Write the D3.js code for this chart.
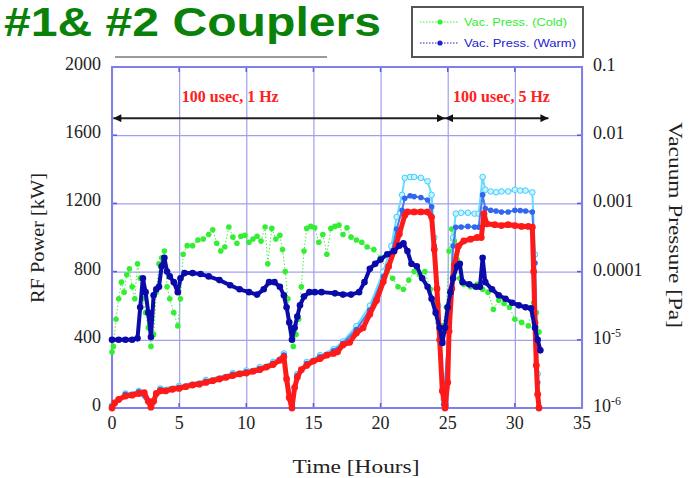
<!DOCTYPE html>
<html>
<head>
<meta charset="UTF-8">
<title>#1 & #2 Couplers</title>
<script src="https://d3js.org/d3.v7.min.js"></script>
<style>
  * { margin: 0; padding: 0; box-sizing: border-box; }
  body { background: #fff; width: 695px; height: 478px; overflow: hidden; }
  svg { display: block; }
  .serif { font-family: "Liberation Serif", "Times New Roman", serif; fill: #222; }
</style>
</head>
<body>
<div id="chart"></div>
<script>
// ---- data (hours, kW / Pa) ----
const xTicks = [0, 5, 10, 15, 20, 25, 30, 35];
const kwTicks = [0, 400, 800, 1200, 1600, 2000];
const paTicks = [1e-6, 1e-5, 1e-4, 1e-3, 1e-2, 1e-1];
const paLabels = [["10", "-6"], ["10", "-5"], ["0.0001"], ["0.001"], ["0.01"], ["0.1"]];

const redPower = [[0,0],[0.2,30],[0.5,50],[1.0,70],[1.5,75],[2.0,85],[2.4,90],[2.7,40],[2.9,5],[3.1,40],[3.3,85],[3.6,100],[4.0,100],[4.5,110],[5.0,115],[5.5,125],[6.0,135],[6.5,140],[7.0,150],[7.5,160],[8.0,170],[8.5,180],[9.0,190],[9.5,200],[10.0,205],[10.5,215],[11.0,225],[11.5,240],[12.0,255],[12.5,280],[12.8,300],[13.0,170],[13.2,60],[13.4,0],[13.6,120],[13.8,180],[14.1,225],[14.5,250],[15.0,275],[15.5,290],[16.0,310],[16.5,320],[16.8,330],[17.2,370],[17.7,385],[18.2,440],[18.7,470],[19.2,550],[19.7,630],[20.2,740],[20.6,830],[21.0,920],[21.4,1020],[21.8,1130],[22.0,1150],[22.5,1150],[23.0,1150],[23.5,1150],[23.8,1120],[24.0,930],[24.2,700],[24.4,400],[24.6,100],[24.8,0],[25.0,150],[25.1,450],[25.3,700],[25.5,840],[25.8,950],[26.2,980],[26.7,990],[27.2,1000],[27.5,1000],[27.7,1140],[27.9,1080],[28.5,1075],[29.0,1070],[29.5,1075],[30.0,1070],[30.5,1065],[31.0,1065],[31.3,1060],[31.4,800],[31.5,500],[31.6,250],[31.7,80],[31.8,0]];

const cyanPower = [[0,15],[1,85],[2,100],[2.9,20],[3.6,115],[5,130],[7,165],[9,205],[10,220],[11,240],[12,270],[12.8,320],[13.4,20],[13.8,200],[14.5,270],[15.5,310],[16.5,345],[17.2,390],[18.2,480],[19.2,600],[20.2,800],[20.8,950],[21.2,1120],[21.6,1250],[21.8,1350],[22.2,1355],[22.5,1355],[23.0,1350],[23.5,1330],[23.8,1250],[24.0,1000],[24.3,600],[24.7,50],[25.1,500],[25.4,1000],[25.6,1140],[26.0,1145],[26.5,1145],[27.0,1140],[27.3,1140],[27.6,1355],[27.8,1280],[28.2,1270],[28.6,1265],[29.0,1270],[29.5,1270],[30.0,1280],[30.4,1275],[30.8,1275],[31.3,1265],[31.5,900],[31.7,200],[31.8,0]];

const bluePower = [[0,10],[1,80],[2,95],[2.9,10],[3.6,108],[5,122],[7,157],[9,197],[10,212],[11,232],[12,262],[12.8,310],[13.4,10],[13.8,190],[14.5,260],[15.5,300],[16.5,335],[17.2,380],[18.2,460],[19.2,575],[20.2,770],[20.8,900],[21.2,1050],[21.6,1160],[21.8,1230],[22.2,1245],[22.5,1240],[23.0,1235],[23.5,1220],[23.8,1180],[24.0,950],[24.3,500],[24.7,20],[25.1,480],[25.4,950],[25.6,1060],[26.0,1062],[26.5,1065],[27.0,1062],[27.3,1060],[27.6,1250],[27.8,1170],[28.2,1160],[28.6,1155],[29.0,1150],[29.5,1150],[30.0,1160],[30.4,1158],[30.8,1155],[31.3,1150],[31.5,850],[31.7,150],[31.8,0]];

const vacCold = [[0.0,6.6e-6],[0.1,8e-6],[0.3,2e-5],[0.5,4e-5],[0.7,7e-5],[0.9,5e-5],[1.1,9e-5],[1.3,1.1e-4],[1.5,6e-5],[1.7,4e-5],[1.9,1.3e-4],[2.1,8e-5],[2.3,4e-5],[2.5,2.5e-5],[2.7,1.5e-5],[2.9,8e-6],[3.1,1.2e-5],[3.3,5e-5],[3.5,1.3e-4],[3.7,1.6e-4],[3.9,2e-4],[4.1,6e-5],[4.3,4e-5],[4.6,2.5e-5],[4.9,1.6e-5],[5.1,4e-5],[5.3,1.8e-4],[5.6,2.4e-4],[6.0,2.4e-4],[6.4,2.9e-4],[6.8,3.0e-4],[7.2,3.5e-4],[7.5,4.1e-4],[7.8,2.6e-4],[8.1,2.0e-4],[8.4,2.3e-4],[8.7,4.5e-4],[9.0,3.2e-4],[9.3,2.6e-4],[9.6,3.3e-4],[9.9,3.4e-4],[10.2,2.7e-4],[10.5,3.0e-4],[10.8,3.3e-4],[11.1,2.8e-4],[11.4,4.5e-4],[11.6,1.3e-4],[11.9,4.3e-4],[12.2,3.0e-4],[12.5,3.4e-4],[12.7,2.1e-4],[12.9,1e-4],[13.1,4e-5],[13.3,1.5e-5],[13.5,8e-6],[13.7,1.2e-5],[13.9,2e-5],[14.1,6e-5],[14.3,2e-4],[14.5,4.3e-4],[14.8,4.6e-4],[15.1,4.4e-4],[15.4,2.7e-4],[15.7,3.5e-4],[16.0,1.8e-4],[16.3,4.3e-4],[16.6,4.6e-4],[16.9,4.8e-4],[17.2,3.5e-4],[17.5,4.4e-4],[17.8,3.2e-4],[18.2,2.9e-4],[18.6,2.7e-4],[19.0,2.3e-4],[19.5,2.1e-4],[20.0,1.6e-4],[20.5,1e-4],[20.9,8e-5],[21.3,6e-5],[21.7,5.5e-5],[22.1,7.5e-5],[22.5,1e-4],[22.9,9e-5],[23.3,1e-4],[23.7,5.5e-5],[24.0,3.5e-5],[24.3,2e-5],[24.6,1.6e-5],[24.9,3e-5],[25.1,2e-4],[25.3,4.2e-4],[25.5,2.8e-4],[25.7,1.5e-4],[25.9,8e-5],[26.2,6.5e-5],[26.7,6e-5],[27.2,6.5e-5],[27.6,5.5e-5],[28.0,5e-5],[28.4,2.8e-5],[28.8,3.8e-5],[29.2,3.4e-5],[29.6,3e-5],[30.0,2e-5],[30.5,1.8e-5],[31.0,1.6e-5],[31.4,3.5e-5],[31.6,2.5e-5],[31.8,1.3e-5]];

const vacWarm = [[0.0,1e-5],[0.5,1e-5],[1.0,1e-5],[1.5,1e-5],[1.9,1.05e-5],[2.1,3e-5],[2.3,8e-5],[2.5,5e-5],[2.7,2.5e-5],[2.9,1.1e-5],[3.1,4.5e-5],[3.3,5.5e-5],[3.5,6e-5],[3.7,1.2e-4],[3.9,1.6e-4],[4.1,1e-4],[4.3,8.5e-5],[4.6,7e-5],[4.9,5e-5],[5.1,8e-5],[5.4,9.5e-5],[6.0,9.5e-5],[6.6,9.2e-5],[7.2,8.5e-5],[8.0,7.5e-5],[8.8,6.3e-5],[9.5,5.5e-5],[10.2,5e-5],[10.8,4.6e-5],[11.3,5.5e-5],[11.7,7e-5],[12.1,7e-5],[12.5,6e-5],[12.8,4.5e-5],[13.0,3e-5],[13.2,1.8e-5],[13.4,1e-5],[13.6,1.5e-5],[13.8,2.2e-5],[14.0,3.2e-5],[14.3,4.3e-5],[14.7,5e-5],[15.1,5e-5],[15.6,5e-5],[16.6,4.8e-5],[17.2,4.6e-5],[17.8,4.6e-5],[18.4,5e-5],[18.8,7e-5],[19.2,1.1e-4],[19.6,1.3e-4],[20.0,1.5e-4],[20.5,1.8e-4],[21.0,2e-4],[21.4,2.4e-4],[21.7,2.6e-4],[22.0,2.0e-4],[22.3,1.3e-4],[22.7,1.2e-4],[23.1,8e-5],[23.5,6e-5],[23.8,4e-5],[24.1,2.5e-5],[24.4,1.5e-5],[24.6,9e-6],[24.8,1.5e-5],[25.0,3e-5],[25.2,5e-5],[25.4,8e-5],[25.7,1.2e-4],[25.9,1.3e-4],[26.1,7e-5],[26.6,6.5e-5],[27.1,6e-5],[27.4,6e-5],[27.6,1.6e-4],[27.8,7e-5],[28.3,5.5e-5],[28.8,4.5e-5],[29.3,4e-5],[29.8,3.5e-5],[30.3,3.2e-5],[30.8,3e-5],[31.2,2.9e-5],[31.5,1.5e-5],[31.7,1e-5],[31.9,7e-6]];

// pulse-mode arrows: [start hour, end hour, label]
const modes = [[0.1, 24.8, "100 usec, 1 Hz"], [24.8, 32.5, "100 usec, 5 Hz"]];
const modeLabelStart = [5.2, 25.4];
const arrowLevel = 1700, modeLabelLevel = 1824;
const legendItems = [["Vac. Press. (Cold)", "#33ee33"], ["Vac. Press. (Warm)", "#2222cc"]];

// ---- layout ----
const W = 695, H = 478;
const plot = { left: 112, right: 582, top: 67, bottom: 408 };

const svg = d3.select("#chart").append("svg")
    .attr("width", W).attr("height", H);

const x = d3.scaleLinear().domain([0, 35]).range([plot.left, plot.right]);
const yL = d3.scaleLinear().domain([0, 2000]).range([plot.bottom, plot.top]);
const yR = d3.scaleLog().domain([1e-6, 0.1]).range([plot.bottom, plot.top]);

// title
svg.append("text")
    .attr("x", 4).attr("y", 36)
    .attr("textLength", 377).attr("lengthAdjust", "spacingAndGlyphs")
    .style("font-family", "'Liberation Sans', Arial, sans-serif")
    .style("font-weight", "bold").style("font-size", "40px")
    .style("fill", "#0a820a")
    .text("#1& #2 Couplers");

svg.append("line")
    .attr("x1", 115).attr("x2", 327).attr("y1", 57).attr("y2", 57)
    .attr("stroke", "#9a9a9a").attr("stroke-width", 2);

// grid
const gridColor = "#a0a0f0";
svg.append("g")
    .attr("transform", `translate(0,${plot.bottom})`)
    .call(d3.axisBottom(x).tickValues(xTicks).tickSize(-(plot.bottom - plot.top)).tickFormat(""))
    .call(g => g.select(".domain").remove())
    .selectAll("line").attr("stroke", gridColor).attr("stroke-width", 1.2);

svg.append("g")
    .attr("transform", `translate(${plot.left},0)`)
    .call(d3.axisLeft(yL).tickValues(kwTicks).tickSize(-(plot.right - plot.left)).tickFormat(""))
    .call(g => g.select(".domain").remove())
    .selectAll("line").attr("stroke", gridColor).attr("stroke-width", 1.2);

// short darker ticks on the frame
const tickCol = "#5a5ae0";
svg.append("g").selectAll("line").data(xTicks).join("line")
    .attr("x1", d => x(d)).attr("x2", d => x(d))
    .attr("y1", plot.top).attr("y2", plot.top + 5)
    .attr("stroke", tickCol).attr("stroke-width", 1.5);
svg.append("g").selectAll("line").data(xTicks).join("line")
    .attr("x1", d => x(d)).attr("x2", d => x(d))
    .attr("y1", plot.bottom).attr("y2", plot.bottom - 5)
    .attr("stroke", tickCol).attr("stroke-width", 1.5);
svg.append("g").selectAll("line").data(kwTicks).join("line")
    .attr("x1", plot.left).attr("x2", plot.left + 5)
    .attr("y1", d => yL(d)).attr("y2", d => yL(d))
    .attr("stroke", tickCol).attr("stroke-width", 1.5);
svg.append("g").selectAll("line").data(paTicks).join("line")
    .attr("x1", plot.right).attr("x2", plot.right - 5)
    .attr("y1", d => yR(d)).attr("y2", d => yR(d))
    .attr("stroke", tickCol).attr("stroke-width", 1.5);

// frame
svg.append("rect")
    .attr("x", plot.left).attr("y", plot.top)
    .attr("width", plot.right - plot.left).attr("height", plot.bottom - plot.top)
    .attr("fill", "none").attr("stroke", "#7f7fee").attr("stroke-width", 2);

// tick labels
svg.append("g").selectAll("text").data(kwTicks).join("text")
    .attr("class", "serif")
    .attr("x", 101).attr("y", d => yL(d) + 3)
    .attr("text-anchor", "end")
    .style("font-size", "18px")
    .text(d => d);

svg.append("g").selectAll("text").data(xTicks).join("text")
    .attr("class", "serif")
    .attr("x", d => x(d)).attr("y", 429)
    .attr("text-anchor", "middle")
    .style("font-size", "18px")
    .text(d => d);

const rLab = svg.append("g").selectAll("text").data(paTicks).join("text")
    .attr("class", "serif")
    .attr("x", 593).attr("y", d => yR(d) + 4)
    .style("font-size", "18px");
rLab.each(function(d, i) {
    const t = d3.select(this);
    const lab = paLabels[i];
    t.append("tspan").text(lab[0]);
    if (lab[1]) t.append("tspan").attr("dy", -7).style("font-size", "12px").text(lab[1]);
});

// axis titles
svg.append("text").attr("class", "serif")
    .attr("transform", "translate(44,238) rotate(-90)")
    .attr("text-anchor", "middle")
    .attr("textLength", 130).attr("lengthAdjust", "spacingAndGlyphs")
    .style("font-size", "19px")
    .text("RF Power  [kW]");

svg.append("text").attr("class", "serif")
    .attr("transform", "translate(669,225) rotate(90)")
    .attr("text-anchor", "middle")
    .attr("textLength", 206).attr("lengthAdjust", "spacingAndGlyphs")
    .style("font-size", "19px")
    .text("Vacuum Pressure  [Pa]");

svg.append("text").attr("class", "serif")
    .attr("x", 356).attr("y", 473)
    .attr("text-anchor", "middle")
    .attr("textLength", 127).attr("lengthAdjust", "spacingAndGlyphs")
    .style("font-size", "19px")
    .text("Time  [Hours]");

// ---- series ----
const lineL = d3.line().x(d => x(d[0])).y(d => yL(d[1]));
const lineR = d3.line().x(d => x(d[0])).y(d => yR(d[1]));

function series(data, line, yScale, opt) {
    const g = svg.append("g");
    g.append("path").datum(data)
        .attr("d", line)
        .attr("fill", "none")
        .attr("stroke", opt.line)
        .attr("stroke-width", opt.lw)
        .attr("stroke-linejoin", "round")
        .attr("stroke-dasharray", opt.dash || null);
    g.selectAll("circle").data(data).join("circle")
        .attr("cx", d => x(d[0])).attr("cy", d => yScale(d[1]))
        .attr("r", opt.r)
        .attr("fill", opt.fill)
        .attr("stroke", opt.stroke || "none")
        .attr("stroke-width", 1);
}

series(vacCold, lineR, yR, { line: "#44ee44", lw: 1, dash: "1.5,2", r: 2.8, fill: "#33ee33" });
series(cyanPower, lineL, yL, { line: "#66ddff", lw: 2, r: 2.8, fill: "#c8f4ff", stroke: "#44ccff" });
series(bluePower, lineL, yL, { line: "#4a7aee", lw: 2, r: 2.8, fill: "#3366ee" });
series(redPower, lineL, yL, { line: "#ff1a1a", lw: 5, r: 3.4, fill: "#ff1a1a" });
series(vacWarm, lineR, yR, { line: "#0c0caa", lw: 4, r: 3.3, fill: "#0a0aaa" });

// ---- mode arrows ----
svg.append("defs").append("marker")
    .attr("id", "ah").attr("viewBox", "0 0 10 10")
    .attr("refX", 10).attr("refY", 5)
    .attr("markerWidth", 5).attr("markerHeight", 4)
    .attr("orient", "auto-start-reverse")
    .append("path").attr("d", "M0,0 L10,5 L0,10 Z").attr("fill", "#111");

svg.append("g").selectAll("line").data(modes).join("line")
    .attr("x1", d => x(d[0])).attr("x2", d => x(d[1]))
    .attr("y1", yL(arrowLevel)).attr("y2", yL(arrowLevel))
    .attr("stroke", "#222").attr("stroke-width", 2)
    .attr("marker-start", "url(#ah)").attr("marker-end", "url(#ah)");

svg.append("g").selectAll("text").data(modes).join("text")
    .attr("x", (d, i) => x(modeLabelStart[i]))
    .attr("y", yL(modeLabelLevel) + 5)
    .style("font-family", "'Liberation Serif', serif")
    .style("font-weight", "bold").style("font-size", "16px")
    .style("fill", "#ff2020")
    .text(d => d[2]);

// ---- legend ----
const lg = svg.append("g");
lg.append("rect")
    .attr("x", 412).attr("y", 7).attr("width", 171).attr("height", 50)
    .attr("fill", "#fff").attr("stroke", "#555").attr("stroke-width", 2);
legendItems.forEach(([name, col], i) => {
    const yy = 22 + i * 21;
    lg.append("line").attr("x1", 420).attr("x2", 459).attr("y1", yy).attr("y2", yy)
        .attr("stroke", col).attr("stroke-width", 1).attr("stroke-dasharray", "1.5,1.5");
    lg.append("circle").attr("cx", 440).attr("cy", yy).attr("r", 2.6).attr("fill", col);
    lg.append("text").attr("x", 464).attr("y", yy + 4)
        .attr("textLength", i === 0 ? 103 : 112).attr("lengthAdjust", "spacingAndGlyphs")
        .style("font-family", "'Liberation Sans Narrow', 'Liberation Sans', Arial, sans-serif")
        .style("font-size", "11px")
        .style("fill", col)
        .text(name);
});
</script>
</body>
</html>
